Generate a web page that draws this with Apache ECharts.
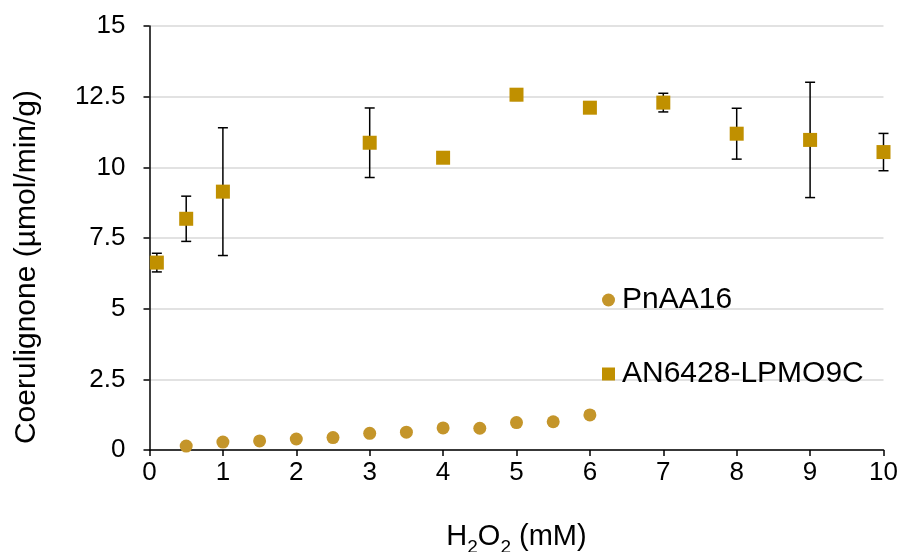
<!DOCTYPE html>
<html><head><meta charset="utf-8">
<script src="https://cdn.jsdelivr.net/npm/echarts@6/dist/echarts.min.js"></script>
<style>html,body{margin:0;padding:0;background:#fff}#c{width:902px;height:552px}</style>
</head><body><div id="c"></div>
<script>
const pnX = [0.5, 1, 1.5, 2, 2.5, 3, 3.5, 4, 4.5, 5, 5.5, 6];
const pnY = [0.14, 0.28, 0.32, 0.39, 0.44, 0.59, 0.63, 0.78, 0.77, 0.97, 1.0, 1.24];
const pnErr = [0, 0, 0, 0, 0, 0, 0, 0, 0, 0, 0.1, 0.12];
const anX = [0.1, 0.5, 1, 3, 4, 5, 6, 7, 8, 9, 10];
const anY = [6.63, 8.18, 9.14, 10.87, 10.34, 12.57, 12.11, 12.29, 11.19, 10.97, 10.54];
const anErr = [0.33, 0.8, 2.26, 1.23, 0, 0.2, 0, 0.33, 0.9, 2.04, 0.66];
const seriesNames = ['PnAA16', 'AN6428-LPMO9C'];
const yTitle = 'Coerulignone (µmol/min/g)';

const F = 'Liberation Sans, Arial, sans-serif';
function errData(xs, ys, es){ return xs.map((x,i)=>[x, ys[i]-es[i], ys[i]+es[i]]).filter((d,i)=>es[i]>0); }
function errSeries(data){
  return {
    type:'custom', silent:true, z:1,
    data: data,
    encode:{x:0,y:[1,2]},
    renderItem:function(params, api){
      const x = api.value(0), lo = api.value(1), hi = api.value(2);
      const pLo = api.coord([x, lo]), pHi = api.coord([x, hi]);
      const w = 5;
      const st = {stroke:'#000', lineWidth:1.5};
      return {type:'group', children:[
        {type:'line', shape:{x1:pLo[0],y1:pLo[1],x2:pHi[0],y2:pHi[1]}, style:st},
        {type:'line', shape:{x1:pLo[0]-w,y1:pLo[1],x2:pLo[0]+w,y2:pLo[1]}, style:st},
        {type:'line', shape:{x1:pHi[0]-w,y1:pHi[1],x2:pHi[0]+w,y2:pHi[1]}, style:st}
      ]};
    }
  };
}
const chart = echarts.init(document.getElementById('c'), null, {renderer:'canvas'});
chart.setOption({
  animation:false,
  backgroundColor:'#fff',
  grid:{left:149.5, right:18.5, top:26, bottom:102, containLabel:false, outerBoundsMode:'none'},
  legend:{
    orient:'vertical', left:597, top:280, itemGap:44, itemWidth:13, itemHeight:13,
    textStyle:{fontFamily:F, fontSize:30, color:'#000', padding:[0,0,0,2]},
    data:[{name:seriesNames[0], icon:'circle'},{name:seriesNames[1], icon:'rect'}]
  },
  graphic:[{
    type:'text', x:27, y:267, rotation:Math.PI/2, silent:true,
    style:{text:yTitle, fontFamily:F, fontSize:30, fill:'#000', align:'center', verticalAlign:'middle'}
  }],
  xAxis:{
    type:'value', min:0, max:10, interval:1,
    axisLine:{lineStyle:{color:'#000', width:1.5}},
    axisTick:{show:true, length:6, lineStyle:{color:'#000', width:1.5}},
    axisLabel:{fontFamily:F, fontSize:26, color:'#000', margin:10},
    splitLine:{show:false},
    name:'{n|H}{s|2}{n|O}{s|2}{n| (mM)}', nameLocation:'middle', nameGap:72,
    nameTextStyle:{fontFamily:F, fontSize:29, color:'#000',
      rich:{n:{fontFamily:F, fontSize:29, color:'#000', verticalAlign:'bottom'},
            s:{fontFamily:F, fontSize:19, color:'#000', verticalAlign:'bottom', padding:[0,0,-6,0]}}}
  },
  yAxis:{
    type:'value', min:0, max:15, interval:2.5,
    axisLine:{show:true, lineStyle:{color:'#000', width:1.5}},
    axisTick:{show:true, length:6, lineStyle:{color:'#000', width:1.5}},
    axisLabel:{fontFamily:F, fontSize:26, color:'#000', margin:24},
    splitLine:{show:true, lineStyle:{color:'#d9d9d9', width:1.5}}
  },
  series:[
    errSeries(errData(pnX, pnY, pnErr)),
    errSeries(errData(anX, anY, anErr)),
    {name:seriesNames[0], type:'scatter', symbol:'circle', symbolSize:13, z:3,
     itemStyle:{color:'#C4952A', opacity:1}, data:pnX.map((x,i)=>[x,pnY[i]])},
    {name:seriesNames[1], type:'scatter', symbol:'rect', symbolSize:14, z:3,
     itemStyle:{color:'#C09000', opacity:1}, data:anX.map((x,i)=>[x,anY[i]])}
  ]
});
</script></body></html>
